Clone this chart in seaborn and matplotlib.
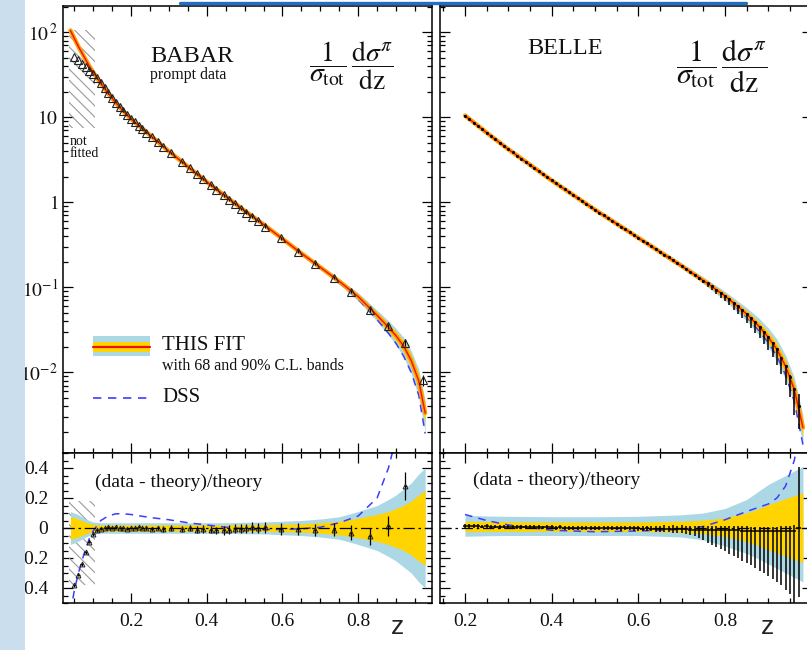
import numpy as np
import matplotlib
matplotlib.use("Agg")
import matplotlib.pyplot as plt
import seaborn as sns
from matplotlib.patches import Rectangle
from matplotlib.lines import Line2D
from matplotlib.ticker import MultipleLocator, FixedLocator, LogLocator, NullFormatter

sns.set_style("ticks")
plt.rcParams['font.family'] = ['Liberation Serif', 'DejaVu Serif']
plt.rcParams['mathtext.fontset'] = 'stix'
plt.rcParams['hatch.linewidth'] = 0.8

# ---------------- BABAR (left) ----------------
# fit / DSS curves and bands, read at nodes (top panel values are log10)
babar_nodes = [0.04, 0.05, 0.06, 0.07, 0.08, 0.09, 0.10, 0.12, 0.14, 0.16, 0.18, 0.20, 0.25, 0.30, 0.35, 0.40,
               0.45, 0.50, 0.55, 0.60, 0.65, 0.70, 0.75, 0.80, 0.85, 0.88, 0.90, 0.92, 0.94, 0.96, 0.977]
babar_fit_log = [2.02, 1.93, 1.84, 1.76, 1.68, 1.60, 1.53, 1.40, 1.28, 1.17, 1.07, 0.98, 0.79, 0.60, 0.42, 0.24,
                 0.07, -0.10, -0.26, -0.43, -0.60, -0.765, -0.93, -1.11, -1.33, -1.47, -1.57, -1.69, -1.86, -2.10, -2.48]
babar_dss_log = [2.02, 1.93, 1.84, 1.76, 1.68, 1.60, 1.53, 1.40, 1.28, 1.17, 1.07, 0.98, 0.79, 0.60, 0.42, 0.24,
                 0.07, -0.10, -0.26, -0.435, -0.605, -0.775, -0.95, -1.14, -1.38, -1.54, -1.66, -1.81, -2.00, -2.27, -2.72]
babar_gold = [0.075, 0.07, 0.06, 0.05, 0.04, 0.03, 0.025, 0.02, 0.02, 0.02, 0.02, 0.02, 0.02, 0.02, 0.02, 0.02,
              0.02, 0.022, 0.022, 0.025, 0.028, 0.035, 0.045, 0.065, 0.09, 0.11, 0.13, 0.15, 0.18, 0.22, 0.25]
babar_blue = [0.11, 0.10, 0.09, 0.075, 0.06, 0.05, 0.04, 0.035, 0.035, 0.035, 0.035, 0.035, 0.035, 0.035, 0.035, 0.035,
              0.035, 0.038, 0.04, 0.045, 0.05, 0.06, 0.075, 0.11, 0.15, 0.19, 0.22, 0.26, 0.30, 0.36, 0.40]
babar_dss_res = [-0.56, -0.42, -0.31, -0.22, -0.14, -0.07, -0.02, 0.05, 0.08, 0.095, 0.095, 0.09, 0.07, 0.055, 0.035, 0.02,
                 0.005, -0.005, -0.01, -0.01, -0.005, 0.005, 0.035, 0.08, 0.2, 0.4, 0.6, 0.8, 1.0, 1.2, 1.4]

# data points
babar_z = [0.05, 0.06, 0.07, 0.08, 0.09, 0.10, 0.11, 0.12, 0.13, 0.14, 0.15, 0.16, 0.17, 0.18, 0.19, 0.20, 0.21, 0.22, 0.23,
           0.24, 0.255, 0.27, 0.285, 0.305, 0.335, 0.355, 0.375, 0.39, 0.41, 0.425, 0.445, 0.46, 0.475, 0.49, 0.505, 0.52, 0.535, 0.555,
           0.595, 0.64, 0.685, 0.735, 0.78, 0.83, 0.88, 0.925, 0.972]
babar_log = [1.71, 1.67, 1.63, 1.59, 1.55, 1.51, 1.46, 1.40, 1.34, 1.28, 1.225, 1.17, 1.12, 1.07, 1.025, 0.98, 0.94, 0.90, 0.86,
             0.82, 0.765, 0.71, 0.655, 0.58, 0.475, 0.40, 0.33, 0.275, 0.205, 0.15, 0.08, 0.03, -0.02, -0.075, -0.12, -0.17, -0.22, -0.285,
             -0.42, -0.58, -0.72, -0.885, -1.05, -1.27, -1.46, -1.65, -2.09]
babar_res = [-0.38, -0.31, -0.24, -0.16, -0.09, -0.04, -0.015, -0.005, 0.0, 0.005, 0.0, 0.005, 0.0, 0.0, -0.005, 0.0, 0.0, 0.005, 0.0,
             0.0, -0.005, 0.0, -0.005, 0.0, -0.005, 0.0, -0.01, -0.005, -0.01, -0.015, -0.015, -0.01, -0.005, -0.005, 0.0, 0.005, 0.0, 0.005,
             -0.005, -0.005, -0.01, -0.01, -0.03, -0.055, 0.015, 0.28, 0.9]
babar_err = [0.01, 0.01, 0.01, 0.01, 0.01, 0.01, 0.01, 0.01, 0.008, 0.008, 0.008, 0.008, 0.008, 0.008, 0.008, 0.008, 0.008, 0.008, 0.008,
             0.015, 0.015, 0.015, 0.02, 0.02, 0.02, 0.02, 0.025, 0.025, 0.025, 0.025, 0.03, 0.03, 0.03, 0.03, 0.03, 0.035, 0.035, 0.035,
             0.04, 0.04, 0.04, 0.045, 0.05, 0.055, 0.065, 0.095, 0.15]

# ---------------- BELLE (right) ----------------
belle_nodes = [0.20, 0.25, 0.30, 0.40, 0.50, 0.60, 0.70, 0.75, 0.80, 0.85, 0.88, 0.90, 0.92, 0.94, 0.96, 0.98]
belle_fit_log = [1.02, 0.818, 0.624, 0.257, -0.088, -0.418, -0.749, -0.92, -1.101, -1.314, -1.467, -1.588, -1.73, -1.93, -2.20, -2.65]
belle_dss_log = [1.02, 0.818, 0.624, 0.25, -0.095, -0.425, -0.755, -0.93, -1.12, -1.35, -1.52, -1.65, -1.81, -2.03, -2.34, -2.85]
belle_gold_hi = [0.045, 0.044, 0.042, 0.04, 0.04, 0.04, 0.045, 0.052, 0.067, 0.10, 0.13, 0.155, 0.175, 0.195, 0.215, 0.235]
belle_gold_lo = [-0.025, -0.024, -0.023, -0.022, -0.022, -0.023, -0.028, -0.038, -0.056, -0.09, -0.12, -0.145, -0.165, -0.185, -0.21, -0.23]
belle_blue_hi = [0.085, 0.08, 0.078, 0.075, 0.075, 0.078, 0.088, 0.10, 0.13, 0.19, 0.25, 0.29, 0.32, 0.35, 0.38, 0.41]
belle_blue_lo = [-0.055, -0.052, -0.05, -0.05, -0.05, -0.05, -0.06, -0.08, -0.12, -0.17, -0.21, -0.24, -0.27, -0.30, -0.33, -0.36]
belle_dss_res = [0.09, 0.05, 0.02, -0.015, -0.025, -0.02, -0.01, 0.01, 0.055, 0.11, 0.14, 0.16, 0.2, 0.28, 0.45, 0.75]

belle_z = [0.20, 0.21, 0.22, 0.23, 0.24, 0.25, 0.26, 0.27, 0.28, 0.29,
           0.30, 0.31, 0.32, 0.33, 0.34, 0.35, 0.36, 0.37, 0.38, 0.39,
           0.40, 0.41, 0.42, 0.43, 0.44, 0.45, 0.46, 0.47, 0.48, 0.49,
           0.50, 0.51, 0.52, 0.53, 0.54, 0.55, 0.56, 0.57, 0.58, 0.59,
           0.60, 0.61, 0.62, 0.63, 0.64, 0.65, 0.66, 0.67, 0.68, 0.69,
           0.70, 0.71, 0.72, 0.73, 0.74, 0.75, 0.76, 0.77, 0.78, 0.79,
           0.80, 0.81, 0.82, 0.83, 0.84, 0.85, 0.86, 0.87, 0.88, 0.89,
           0.90, 0.91, 0.92, 0.93, 0.94, 0.95, 0.96, 0.97]
belle_log = [1.020, 0.979, 0.938, 0.898, 0.858, 0.818, 0.779, 0.740, 0.701, 0.662,
             0.624, 0.586, 0.549, 0.512, 0.475, 0.438, 0.401, 0.365, 0.329, 0.293,
             0.257, 0.222, 0.187, 0.152, 0.117, 0.082, 0.048, 0.014, -0.020, -0.054,
             -0.088, -0.121, -0.154, -0.187, -0.220, -0.253, -0.286, -0.319, -0.352, -0.385,
             -0.418, -0.451, -0.484, -0.517, -0.550, -0.583, -0.616, -0.649, -0.682, -0.715,
             -0.749, -0.783, -0.817, -0.851, -0.885, -0.920, -0.955, -0.990, -1.026, -1.063,
             -1.101, -1.140, -1.181, -1.224, -1.268, -1.314, -1.362, -1.413, -1.467, -1.525,
             -1.588, -1.656, -1.730, -1.830, -1.930, -2.050, -2.200, -2.400]
belle_res = [0.015, 0.015, 0.012, 0.012, 0.01, 0.012, 0.01, 0.01, 0.008, 0.01,
             0.008, 0.008, 0.006, 0.008, 0.006, 0.005, 0.006, 0.005, 0.004, 0.005,
             0.004, 0.003, 0.004, 0.002, 0.003, 0.002, 0.002, 0.0, 0.002, 0.0,
             0.0, 0.0, -0.002, 0.0, -0.002, 0.0, -0.003, -0.002, 0.0, -0.003,
             -0.002, -0.004, -0.003, -0.005, -0.004, -0.006, -0.005, -0.007, -0.006, -0.008,
             -0.008, -0.009, -0.01, -0.01, -0.011, -0.012, -0.012, -0.013, -0.014, -0.014,
             -0.015, -0.015, -0.016, -0.016, -0.017, -0.017, -0.018, -0.018, -0.019, -0.019,
             -0.02, -0.02, -0.02, -0.02, -0.02, -0.02, -0.02, 0.0]
belle_err_hi = [0.012, 0.012, 0.012, 0.012, 0.012, 0.012, 0.012, 0.012, 0.012, 0.012,
                0.012, 0.012, 0.012, 0.012, 0.012, 0.012, 0.012, 0.012, 0.012, 0.012,
                0.013, 0.013, 0.013, 0.013, 0.013, 0.013, 0.013, 0.013, 0.013, 0.013,
                0.014, 0.014, 0.014, 0.014, 0.014, 0.014, 0.014, 0.014, 0.014, 0.014,
                0.016, 0.016, 0.018, 0.018, 0.02, 0.02, 0.022, 0.022, 0.024, 0.024,
                0.025, 0.025, 0.025, 0.025, 0.025, 0.025, 0.025, 0.025, 0.025, 0.025,
                0.028, 0.028, 0.028, 0.028, 0.028, 0.028, 0.028, 0.028, 0.028, 0.028,
                0.03, 0.03, 0.03, 0.032, 0.032, 0.035, 0.04, 0.41]
belle_err_lo = [0.012, 0.012, 0.012, 0.012, 0.012, 0.012, 0.012, 0.012, 0.012, 0.012,
                0.012, 0.012, 0.012, 0.012, 0.012, 0.012, 0.012, 0.012, 0.012, 0.012,
                0.013, 0.013, 0.013, 0.013, 0.013, 0.013, 0.013, 0.013, 0.013, 0.013,
                0.014, 0.014, 0.014, 0.014, 0.014, 0.014, 0.014, 0.014, 0.014, 0.014,
                0.016, 0.016, 0.018, 0.018, 0.02, 0.02, 0.022, 0.022, 0.024, 0.024,
                0.026, 0.03, 0.035, 0.045, 0.055, 0.07, 0.085, 0.1, 0.11, 0.125,
                0.14, 0.155, 0.17, 0.185, 0.2, 0.215, 0.23, 0.25, 0.265, 0.28,
                0.30, 0.32, 0.34, 0.36, 0.39, 0.42, 0.50, 0.46]

# not-fitted region (BaBar)
hatch_z = [0.035, 0.105]

C_BLUE = '#acd8e6'
C_GOLD = '#ffd400'
C_ORANGE = '#ffa200'
C_RED = '#ee1111'
C_DSS = '#3c3cff'

W, H = 807, 650
fig = plt.figure(figsize=(W / 100, H / 100), dpi=100)
fig.patch.set_facecolor('white')


def fx(px):
    return px / W


def fy(py):
    return 1 - py / H


ax_lt = fig.add_axes([fx(63), fy(453), 369 / W, 447 / H])
ax_lb = fig.add_axes([fx(63), fy(603), 369 / W, 150 / H])
ax_rt = fig.add_axes([fx(440), fy(453), 371.6 / W, 447 / H])
ax_rb = fig.add_axes([fx(440), fy(603), 371.6 / W, 150 / H])


def style(ax, xlim, logy):
    ax.set_xlim(*xlim)
    ax.xaxis.set_major_locator(FixedLocator([0.2, 0.4, 0.6, 0.8]))
    ax.xaxis.set_minor_locator(MultipleLocator(0.05))
    if logy:
        ax.set_yscale('log')
        ax.set_ylim(1.125e-3, 203.7)
        ax.yaxis.set_major_locator(FixedLocator([1e-2, 1e-1, 1, 10, 100]))
        ax.yaxis.set_minor_locator(LogLocator(base=10, subs=range(2, 10)))
        ax.yaxis.set_minor_formatter(NullFormatter())
    else:
        ax.set_ylim(-0.5, 0.5)
        ax.yaxis.set_major_locator(MultipleLocator(0.2))
        ax.yaxis.set_minor_locator(MultipleLocator(0.05))
    ax.tick_params(which='both', direction='in', top=True, right=True, bottom=True, left=True,
                   width=0.9, color='black', labelsize=14, labelcolor='#111111')
    ax.tick_params(which='major', length=7.5)
    ax.tick_params(which='minor', length=3.8)
    for s in ax.spines.values():
        s.set_linewidth(1.1)
        s.set_color('black')
    ax.set_facecolor('white')
    ax.set_xlabel('')
    ax.set_ylabel('')


# ---------- top panels ----------
for ax, nodes, fit_log, dss_log, g_hi, g_lo, b_hi, b_lo in [
        (ax_lt, babar_nodes, babar_fit_log, babar_dss_log, babar_gold, [-v for v in babar_gold], babar_blue, [-v for v in babar_blue]),
        (ax_rt, belle_nodes, belle_fit_log, belle_dss_log, belle_gold_hi, belle_gold_lo, belle_blue_hi, belle_blue_lo)]:
    fit = 10 ** np.array(fit_log)
    ax.fill_between(nodes, fit * (1 + np.array(b_lo)), fit * (1 + np.array(b_hi)), color=C_BLUE, lw=0, zorder=1)
    ax.fill_between(nodes, fit * (1 + np.array(g_lo)), fit * (1 + np.array(g_hi)), color=C_GOLD, lw=0, zorder=1.2)
    sns.lineplot(x=nodes, y=10 ** np.array(dss_log), ax=ax, color=C_DSS, lw=1.1, linestyle=(0, (5, 4)), zorder=2)
    sns.lineplot(x=nodes, y=fit, ax=ax, color=C_ORANGE, lw=3.2, zorder=2.5)
    sns.lineplot(x=nodes, y=fit, ax=ax, color=C_RED, lw=1.0, zorder=2.6)

# BaBar data (triangles)
bv = 10 ** np.array(babar_log)
ax_lt.errorbar(babar_z, bv, yerr=bv * np.array(babar_err), fmt='^', ms=5.5, mfc='none', mec='#222222', mew=0.8,
               ecolor='black', elinewidth=0.8, zorder=3)
# Belle data
lv = 10 ** np.array(belle_log)
ax_rt.errorbar(belle_z, lv, yerr=[lv * np.array(belle_err_lo), lv * np.array(belle_err_hi)], fmt='o', ms=1.2,
               color='black', ecolor='black', elinewidth=1.1, zorder=3)

# hatch (not fitted)
ax_lt.fill_between(hatch_z, [10 ** 0.87] * 2, [10 ** 2.03] * 2, hatch='\\\\\\', facecolor='none',
                   edgecolor='#9a9a9a', linewidth=0, zorder=0.8)
ax_lb.fill_between(hatch_z, [-0.38] * 2, [0.18] * 2, hatch='\\\\\\', facecolor='none',
                   edgecolor='#9a9a9a', linewidth=0, zorder=0.8)

# ---------- bottom panels ----------
ax_lb.fill_between(babar_nodes, [-v for v in babar_blue], babar_blue, color=C_BLUE, lw=0, zorder=1)
ax_lb.fill_between(babar_nodes, [-v for v in babar_gold], babar_gold, color=C_GOLD, lw=0, zorder=1.2)
sns.lineplot(x=babar_nodes, y=babar_dss_res, ax=ax_lb, color=C_DSS, lw=1.1, linestyle=(0, (5, 4)), zorder=2)
ax_lb.errorbar(babar_z, babar_res, yerr=babar_err, xerr=0.004, fmt='^', ms=3.5, mfc='none', mec='#222222', mew=0.7,
               ecolor='black', elinewidth=0.9, zorder=3)

ax_rb.fill_between(belle_nodes, belle_blue_lo, belle_blue_hi, color=C_BLUE, lw=0, zorder=1)
ax_rb.fill_between(belle_nodes, belle_gold_lo, belle_gold_hi, color=C_GOLD, lw=0, zorder=1.2)
sns.lineplot(x=belle_nodes, y=belle_dss_res, ax=ax_rb, color=C_DSS, lw=1.1, linestyle=(0, (5, 4)), zorder=2)
ax_rb.errorbar(belle_z, belle_res, yerr=[belle_err_lo, belle_err_hi], xerr=0.005, fmt='none',
               ecolor='black', elinewidth=1.1, zorder=3)

for ax in (ax_lb, ax_rb):
    ax.axhline(0, color='black', lw=0.9, ls=(0, (9, 3, 2, 3)), zorder=4)

style(ax_lt, (0.0203, 0.995), True)
style(ax_lb, (0.0203, 0.995), False)
style(ax_rt, (0.1423, 1.0), True)
style(ax_rb, (0.1423, 1.0), False)

ax_lt.set_yticks([1e-2, 1e-1, 1, 10, 100])
ax_lt.set_yticklabels([r'$10^{-2}$', r'$10^{-1}$', r'$1\;\;$', r'$10\;\,$', r'$10^{\,2}$'])
ax_lt.tick_params(axis='y', pad=3.5)
ax_lb.set_yticks([-0.4, -0.2, 0, 0.2, 0.4])
ax_lb.set_yticklabels(['\u22120.4', '\u22120.2', '0', '0.2', '0.4'])
ax_lb.tick_params(axis='y', pad=10.5)
for ax in (ax_lt, ax_rt):
    ax.tick_params(labelbottom=False)
for ax in (ax_rt, ax_rb):
    ax.tick_params(labelleft=False)
for ax in (ax_lb, ax_rb):
    ax.tick_params(axis='x', pad=7)

# ---------- texts ----------
fig.text(fx(150), fy(56), 'BABAR', fontsize=17.5, ha='left', va='center', color='#111111')
fig.text(fx(150), fy(75), 'prompt data', fontsize=11.5, ha='left', va='center', color='#111111')
fig.text(fx(527), fy(48), 'BELLE', fontsize=17.5, ha='left', va='center', color='#111111')
frac = r'$\dfrac{1}{\sigma_{\mathrm{tot}}}\,\dfrac{\mathrm{d}\sigma^{\pi}}{\mathrm{dz}}$'
fig.text(fx(351), fy(66), frac, fontsize=20, ha='center', va='center', color='#111111')
fig.text(fx(722), fy(66), frac, fontsize=21.5, ha='center', va='center', color='#111111')
fig.text(fx(70), fy(148), 'not\nfitted', fontsize=10, ha='left', va='center', linespacing=0.9, color='#111111')

fig.text(fx(95), fy(482), '(data - theory)/theory', fontsize=14, ha='left', va='center', color='#111111')
fig.text(fx(473), fy(480), '(data - theory)/theory', fontsize=14, ha='left', va='center', color='#111111')

fig.text(fx(398), fy(627), 'z', fontsize=19, ha='center', va='center', family=['Liberation Sans', 'DejaVu Sans'], color='#222222')
fig.text(fx(768), fy(627), 'z', fontsize=19, ha='center', va='center', family=['Liberation Sans', 'DejaVu Sans'], color='#222222')

# legend (hand made)
ax_lt.add_patch(Rectangle((0.0813, 0.217), 0.1545, 0.0447, transform=ax_lt.transAxes, color=C_BLUE, lw=0, zorder=5))
ax_lt.add_patch(Rectangle((0.0813, 0.2266), 0.1545, 0.0224, transform=ax_lt.transAxes, color=C_GOLD, lw=0, zorder=5.1))
ax_lt.add_line(Line2D([0.0813, 0.2358], [0.2376, 0.2376], transform=ax_lt.transAxes, color=C_RED, lw=1.6, zorder=5.2))
ax_lt.add_line(Line2D([0.0813, 0.2358], [0.123, 0.123], transform=ax_lt.transAxes, color=C_DSS, lw=1.2,
                      ls=(0, (5, 4)), zorder=5.2))
fig.text(fx(162), fy(345), 'THIS FIT', fontsize=15, ha='left', va='center', color='#111111')
fig.text(fx(162), fy(366), 'with 68 and 90% C.L. bands', fontsize=11.5, ha='left', va='center', color='#111111')
fig.text(fx(162), fy(398), 'DSS', fontsize=15, ha='left', va='center', color='#111111')

# slide decorations
fig.add_artist(Rectangle((0, 0), fx(25), 1, transform=fig.transFigure, color='#cbdeed', lw=0, zorder=10))
fig.add_artist(Line2D([fx(180), fx(746)], [fy(2.5), fy(2.5)], transform=fig.transFigure, color='#1f6fc6', lw=2.4, zorder=10))

fig.savefig('out.png', dpi=100)
